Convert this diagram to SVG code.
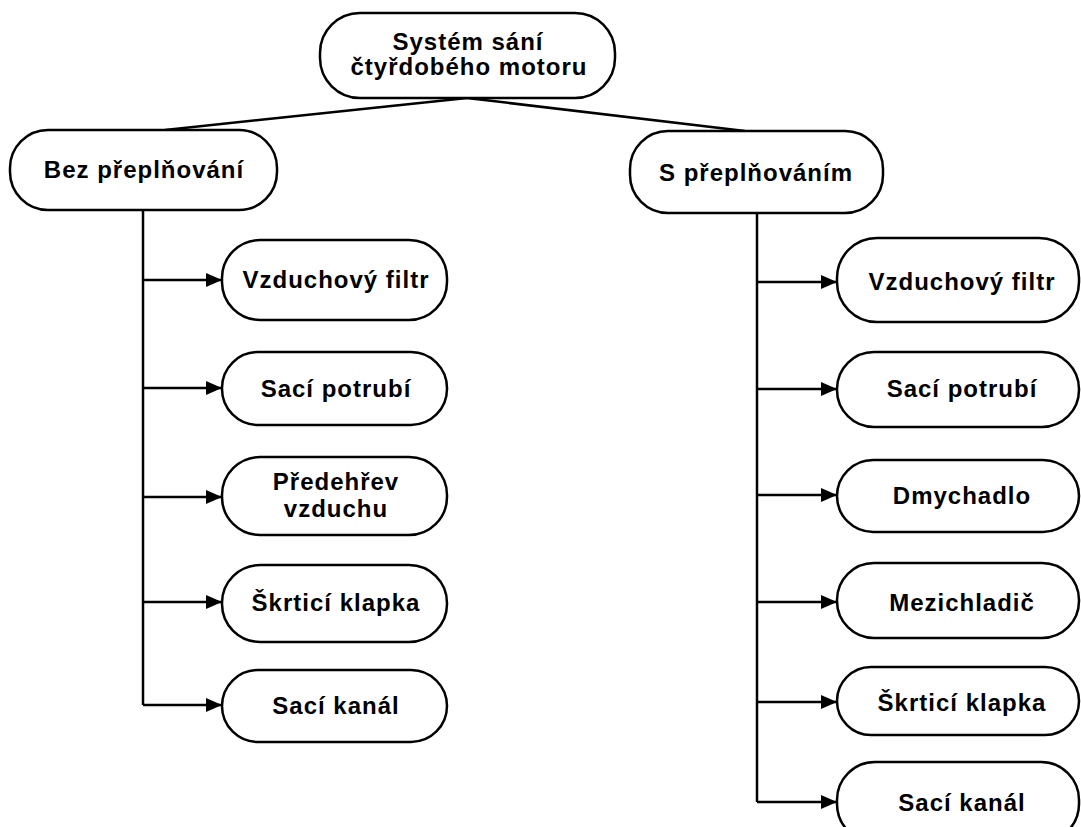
<svg xmlns="http://www.w3.org/2000/svg" width="1081" height="827" viewBox="0 0 1081 827">
<style>
.n{fill:#fff;stroke:#000;stroke-width:2.5}
.t{font-family:"Liberation Sans",Arial,sans-serif;font-weight:bold;font-size:24px;letter-spacing:1px;text-anchor:middle;fill:#000}
.c{stroke:#000;stroke-width:2.5;fill:none}
</style>
<defs>
<marker id="ah" viewBox="0 0 16 14" refX="16" refY="7" markerWidth="16" markerHeight="14" markerUnits="userSpaceOnUse" orient="auto">
<path d="M0,0 L16,7 L0,14 Z" fill="#000"/>
</marker>
</defs>
<rect width="1081" height="827" fill="#fff"/>
<g id="connectors">
<line class="c" x1="467" y1="98" x2="165" y2="130"/>
<line class="c" x1="467" y1="98" x2="745" y2="131"/>
<line class="c" x1="143" y1="210" x2="143" y2="705"/>
<line class="c" x1="143" y1="280" x2="222" y2="280" marker-end="url(#ah)"/>
<line class="c" x1="143" y1="388" x2="222" y2="388" marker-end="url(#ah)"/>
<line class="c" x1="143" y1="497" x2="222" y2="497" marker-end="url(#ah)"/>
<line class="c" x1="143" y1="602" x2="222" y2="602" marker-end="url(#ah)"/>
<line class="c" x1="143" y1="705" x2="222" y2="705" marker-end="url(#ah)"/>
<line class="c" x1="757" y1="213" x2="757" y2="802"/>
<line class="c" x1="757" y1="282" x2="837" y2="282" marker-end="url(#ah)"/>
<line class="c" x1="757" y1="389" x2="837" y2="389" marker-end="url(#ah)"/>
<line class="c" x1="757" y1="495" x2="837" y2="495" marker-end="url(#ah)"/>
<line class="c" x1="757" y1="602" x2="837" y2="602" marker-end="url(#ah)"/>
<line class="c" x1="757" y1="702" x2="837" y2="702" marker-end="url(#ah)"/>
<line class="c" x1="757" y1="802" x2="837" y2="802" marker-end="url(#ah)"/>
</g>
<g id="root">
<rect class="n" x="320" y="13" width="295" height="85" rx="40" ry="40"/>
<text class="t" x="468" y="50">Systém sání</text>
<text class="t" x="469" y="75">čtyřdobého motoru</text>
</g>
<g id="bez">
<rect class="n" x="10" y="130" width="267" height="80" rx="38" ry="38"/>
<text class="t" x="144" y="178">Bez přeplňování</text>
</g>
<g id="s">
<rect class="n" x="630" y="131" width="253" height="82" rx="38" ry="38"/>
<text class="t" x="756" y="181">S přeplňováním</text>
</g>
<g id="l1">
<rect class="n" x="222" y="240" width="225" height="80" rx="38" ry="38"/>
<text class="t" x="336" y="288">Vzduchový filtr</text>
</g>
<g id="l2">
<rect class="n" x="222" y="352" width="225" height="73" rx="36" ry="36"/>
<text class="t" x="336" y="397">Sací potrubí</text>
</g>
<g id="l3">
<rect class="n" x="222" y="457" width="225" height="78" rx="38" ry="38"/>
<text class="t" x="336" y="490">Předehřev</text>
<text class="t" x="336" y="517">vzduchu</text>
</g>
<g id="l4">
<rect class="n" x="222" y="565" width="225" height="77" rx="38" ry="38"/>
<text class="t" x="336" y="611">Škrticí klapka</text>
</g>
<g id="l5">
<rect class="n" x="222" y="670" width="225" height="72" rx="36" ry="36"/>
<text class="t" x="336" y="714">Sací kanál</text>
</g>
<g id="r1">
<rect class="n" x="837" y="238" width="242" height="84" rx="40" ry="40"/>
<text class="t" x="962" y="290">Vzduchový filtr</text>
</g>
<g id="r2">
<rect class="n" x="837" y="352" width="242" height="75" rx="37" ry="37"/>
<text class="t" x="962" y="397">Sací potrubí</text>
</g>
<g id="r3">
<rect class="n" x="837" y="460" width="242" height="72" rx="36" ry="36"/>
<text class="t" x="962" y="504">Dmychadlo</text>
</g>
<g id="r4">
<rect class="n" x="837" y="563" width="242" height="75" rx="37" ry="37"/>
<text class="t" x="962" y="611">Mezichladič</text>
</g>
<g id="r5">
<rect class="n" x="837" y="667" width="242" height="68" rx="34" ry="34"/>
<text class="t" x="962" y="711">Škrticí klapka</text>
</g>
<g id="r6">
<rect class="n" x="837" y="762" width="242" height="80" rx="38" ry="38"/>
<text class="t" x="962" y="811">Sací kanál</text>
</g>
</svg>
